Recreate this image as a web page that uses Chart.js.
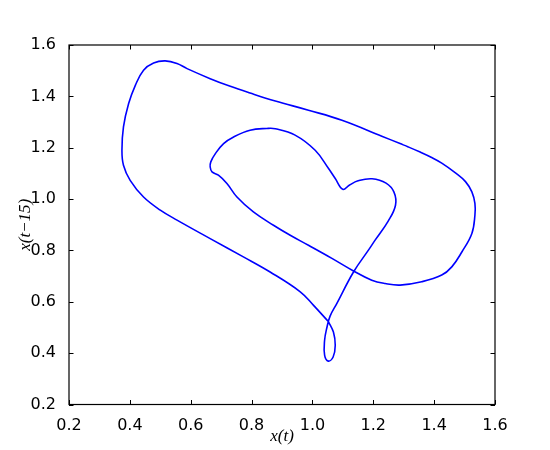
<!DOCTYPE html>
<html>
<head>
<meta charset="utf-8">
<script src="https://cdn.jsdelivr.net/npm/chart.js@4/dist/chart.umd.min.js"></script>
<style>
  html, body { margin: 0; padding: 0; background: #fff; }
  canvas { display: block; }
</style>
</head>
<body>
<canvas id="delayChart" width="550" height="450"></canvas>
<script>
// trajectory, in path order (x(t), x(t-15))
const xt = [
  1.053, 1.069, 1.075, 1.068, 1.052, 1.040, 1.040, 1.047, 1.058, 1.080,
  1.135, 1.184, 1.206, 1.249, 1.273, 1.268, 1.242, 1.196, 1.150, 1.121,
  1.100, 1.075, 1.053, 1.009, 0.943, 0.878, 0.850, 0.795, 0.741, 0.708,
  0.681, 0.666, 0.664, 0.670, 0.691, 0.719, 0.752, 0.806, 0.872, 0.927,
  0.987, 1.064, 1.135, 1.195, 1.239, 1.288, 1.359, 1.425, 1.458, 1.491,
  1.524, 1.534, 1.534, 1.524, 1.503, 1.470, 1.425, 1.390, 1.354, 1.315,
  1.288, 1.228, 1.097, 0.987, 0.878, 0.795, 0.730, 0.664, 0.588, 0.555,
  0.516, 0.478, 0.445, 0.418, 0.396, 0.379, 0.374, 0.379, 0.401, 0.445,
  0.500, 0.555, 0.664, 0.773, 0.861, 0.960, 1.003, 1.053
];
const xtLag = [
  0.522, 0.482, 0.431, 0.385, 0.369, 0.392, 0.450, 0.497, 0.544, 0.593,
  0.716, 0.801, 0.840, 0.914, 0.976, 1.027, 1.062, 1.079, 1.071, 1.054,
  1.038, 1.080, 1.119, 1.190, 1.249, 1.274, 1.275, 1.268, 1.242, 1.216,
  1.177, 1.145, 1.125, 1.106, 1.093, 1.061, 1.008, 0.950, 0.898, 0.859,
  0.820, 0.769, 0.720, 0.684, 0.671, 0.665, 0.678, 0.704, 0.736, 0.794,
  0.866, 0.937, 0.983, 1.028, 1.068, 1.102, 1.140, 1.163, 1.183, 1.203,
  1.216, 1.245, 1.307, 1.346, 1.382, 1.413, 1.439, 1.469, 1.508, 1.528,
  1.538, 1.530, 1.502, 1.443, 1.372, 1.281, 1.190, 1.132, 1.073, 1.008,
  0.957, 0.918, 0.846, 0.775, 0.716, 0.639, 0.587, 0.522
];
const xTicks = [0.2, 0.4, 0.6, 0.8, 1.0, 1.2, 1.4, 1.6];
const yTicks = [0.2, 0.4, 0.6, 0.8, 1.0, 1.2, 1.4, 1.6];

const points = xt.map((v, i) => ({ x: v, y: xtLag[i] }));

// matplotlib style frame with inward ticks on all four sides
const frameTicks = {
  id: 'frameTicks',
  afterDatasetsDraw(chart) {
    const { ctx, chartArea: a, scales } = chart;
    const len = 4.5;
    ctx.save();
    ctx.strokeStyle = '#000';
    ctx.lineWidth = 1;
    ctx.beginPath();
    xTicks.forEach(v => {
      const px = Math.round(scales.x.getPixelForValue(v)) + 0.5;
      ctx.moveTo(px, a.bottom); ctx.lineTo(px, a.bottom - len);
      ctx.moveTo(px, a.top); ctx.lineTo(px, a.top + len);
    });
    yTicks.forEach(v => {
      const py = Math.round(scales.y.getPixelForValue(v)) + 0.5;
      ctx.moveTo(a.left, py); ctx.lineTo(a.left + len, py);
      ctx.moveTo(a.right, py); ctx.lineTo(a.right - len, py);
    });
    ctx.stroke();
    ctx.lineWidth = 1.2;
    ctx.strokeRect(a.left, a.top, a.right - a.left, a.bottom - a.top);
    ctx.restore();
  }
};

const tickFont = { family: 'DejaVu Sans', size: 16 };
const titleFont = { family: 'Liberation Serif', size: 17, style: 'italic' };

new Chart(document.getElementById('delayChart').getContext('2d'), {
  type: 'scatter',
  data: {
    datasets: [{
      data: points,
      showLine: true,
      borderColor: '#0000ff',
      borderWidth: 1.6,
      pointRadius: 0,
      tension: 0.4,
      fill: false
    }]
  },
  options: {
    responsive: false,
    animation: false,
    layout: { padding: { top: 45, right: 55, left: 0, bottom: 0 } },
    plugins: { legend: { display: false }, tooltip: { enabled: false } },
    scales: {
      x: {
        type: 'linear',
        min: 0.2, max: 1.6,
        afterBuildTicks: s => { s.ticks = xTicks.map(v => ({ value: v })); },
        afterFit: s => { s.height = 45.5; },
        grid: { display: false },
        border: { display: false },
        ticks: { color: '#000', font: tickFont, padding: 4, callback: v => v.toFixed(1) },
        title: { display: true, text: 'x(t)', color: '#000', font: titleFont, padding: { top: 0, bottom: 3 } }
      },
      y: {
        type: 'linear',
        min: 0.2, max: 1.6,
        afterBuildTicks: s => { s.ticks = yTicks.map(v => ({ value: v })); },
        afterFit: s => { s.width = 69; },
        grid: { display: false },
        border: { display: false },
        ticks: { color: '#000', font: tickFont, padding: 5, callback: v => v.toFixed(1) },
        title: { display: true, text: 'x(t\u221215)', color: '#000', font: titleFont, padding: { top: 15, bottom: 0 } }
      }
    }
  },
  plugins: [frameTicks]
});
</script>
</body>
</html>
